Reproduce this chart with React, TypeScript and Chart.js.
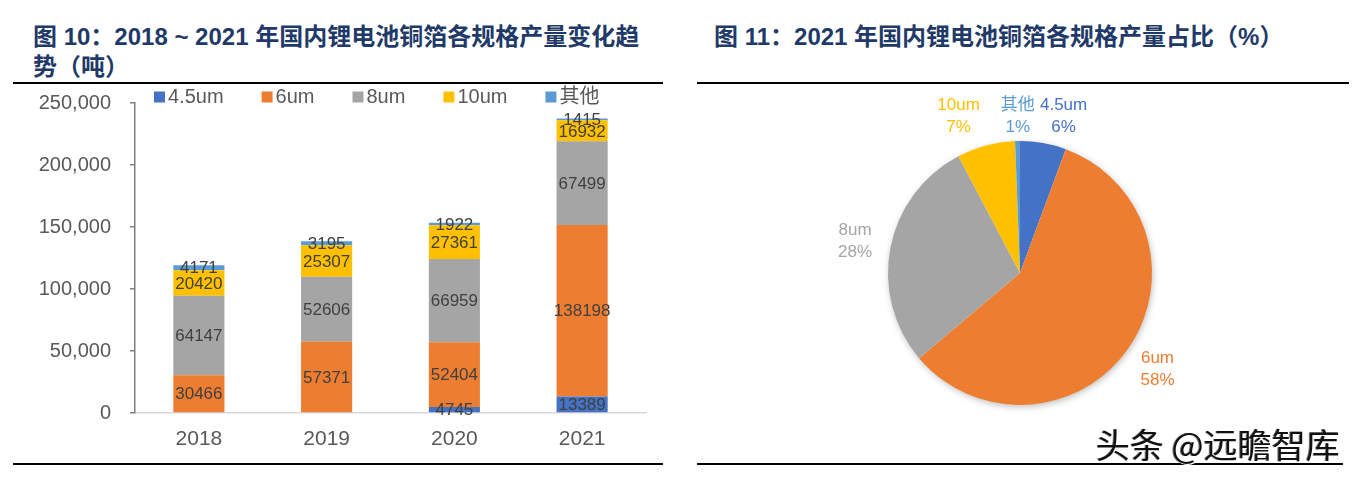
import React, { useEffect, useRef } from 'react';
import { Chart, registerables } from 'chart.js';

Chart.register(...registerables);

// ---------- data ----------
const years = ['2018', '2019', '2020', '2021'];
const seriesNames = ['4.5um', '6um', '8um', '10um', '其他'];
const s45 = [0, 0, 4745, 13389];
const s6 = [30466, 57371, 52404, 138198];
const s8 = [64147, 52606, 66959, 67499];
const s10 = [20420, 25307, 27361, 16932];
const sOther = [4171, 3195, 1922, 1415];
const yMax = 250000;
const yStep = 50000;

const pieLabels = ['4.5um', '6um', '8um', '10um', '其他'];
const pieValues = [13389, 138198, 67499, 16932, 1415];

// ---------- styles ----------
const colors = ['#4472C4', '#ED7D31', '#A5A5A5', '#FFC000', '#5B9BD5'];
const pieLabelColors = ['#4472C4', '#ED7D31', '#A5A5A5', '#FFC000', '#5B9BD5'];
const pieLabelNudgeX = [14, 0, 0, -18, 1];
const FONT = '"Liberation Sans", Arial, "Noto Sans CJK SC", sans-serif';
const TITLE_COLOR = '#1F3A68';

const barLabelPlugin = {
  id: 'barLabels',
  afterDatasetsDraw(chart: any) {
    const ctx = chart.ctx;
    ctx.save();
    ctx.font = `17px ${FONT}`;
    ctx.fillStyle = '#404040';
    ctx.textAlign = 'center';
    ctx.textBaseline = 'middle';
    chart.data.datasets.forEach((ds: any, i: number) => {
      const meta = chart.getDatasetMeta(i);
      meta.data.forEach((el: any, j: number) => {
        const v = ds.data[j];
        if (!v) return;
        const p = el.getProps(['x', 'y', 'base'], true);
        ctx.fillText(String(v), p.x, (p.y + p.base) / 2 + 1);
      });
    });
    ctx.restore();
  },
};

const barLegendPlugin = {
  id: 'barLegend',
  afterDraw(chart: any) {
    const ctx = chart.ctx;
    ctx.save();
    ctx.font = `20px ${FONT}`;
    ctx.textBaseline = 'middle';
    ctx.textAlign = 'left';
    let x = 141;
    const y = 12;
    chart.data.datasets.forEach((ds: any) => {
      ctx.fillStyle = ds.backgroundColor;
      ctx.fillRect(x, y - 5.5, 11, 11);
      x += 14;
      ctx.fillStyle = '#595959';
      ctx.fillText(ds.label, x, y);
      x += ctx.measureText(ds.label).width + 38;
    });
    ctx.restore();
  },
};

const pieShadowPlugin = {
  id: 'pieShadow',
  beforeDatasetsDraw(chart: any) {
    const el = chart.getDatasetMeta(0).data[0];
    if (!el) return;
    const ctx = chart.ctx;
    ctx.save();
    ctx.shadowColor = 'rgba(0,0,0,0.28)';
    ctx.shadowBlur = 7;
    ctx.shadowOffsetX = 1;
    ctx.shadowOffsetY = 2;
    ctx.fillStyle = '#ffffff';
    ctx.beginPath();
    ctx.arc(el.x, el.y, el.outerRadius - 0.5, 0, Math.PI * 2);
    ctx.fill();
    ctx.restore();
  },
};

const pieLabelPlugin = {
  id: 'pieLabels',
  afterDatasetsDraw(chart: any) {
    const ctx = chart.ctx;
    const meta = chart.getDatasetMeta(0);
    const data = chart.data.datasets[0].data as number[];
    const total = data.reduce((a, b) => a + b, 0);
    ctx.save();
    ctx.font = `17px ${FONT}`;
    ctx.textAlign = 'center';
    ctx.textBaseline = 'middle';
    meta.data.forEach((el: any, i: number) => {
      const a = (el.startAngle + el.endAngle) / 2;
      const d = el.outerRadius + 36;
      const lx = el.x + Math.cos(a) * d + pieLabelNudgeX[i];
      let ly = el.y + Math.sin(a) * d;
      const topLimit = el.y - el.outerRadius - 25;
      if (ly < topLimit) ly = topLimit;
      const pct = Math.round((data[i] / total) * 100) + '%';
      ctx.fillStyle = pieLabelColors[i];
      ctx.fillText(chart.data.labels[i], lx, ly - 11);
      ctx.fillText(pct, lx, ly + 11);
    });
    ctx.restore();
  },
};

function BarChart() {
  const ref = useRef<HTMLCanvasElement>(null);
  useEffect(() => {
    const series = [s45, s6, s8, s10, sOther];
    const chart = new Chart(ref.current as HTMLCanvasElement, {
      type: 'bar',
      data: {
        labels: years,
        datasets: series.map((d, i) => ({
          label: seriesNames[i],
          data: d,
          backgroundColor: colors[i],
          borderWidth: 0,
          barPercentage: 0.4,
          categoryPercentage: 1.0,
        })),
      },
      options: {
        animation: false,
        responsive: false,
        maintainAspectRatio: false,
        layout: { padding: { top: 18, right: 16, left: 0, bottom: 0 } },
        plugins: { legend: { display: false }, tooltip: { enabled: false } },
        scales: {
          x: {
            stacked: true,
            grid: { display: false },
            border: { display: true, color: '#D9D9D9', width: 1.5 },
            ticks: { color: '#595959', font: { size: 21, family: FONT }, padding: 6 },
            afterFit: (s: any) => { s.height = 49; },
          },
          y: {
            stacked: true,
            min: 0,
            max: yMax,
            ticks: {
              stepSize: yStep,
              color: '#595959',
              font: { size: 20, family: FONT },
              padding: 19,
              callback: (v: any) => Number(v).toLocaleString('en-US'),
            },
            grid: { drawOnChartArea: false, drawTicks: true, tickLength: 5, color: '#7f7f7f', lineWidth: 1.5 },
            border: { color: '#7f7f7f', width: 1.5 },
            afterFit: (s: any) => { s.width = 122; s.paddingTop = 0; s.paddingBottom = 0; },
          },
        },
      } as any,
      plugins: [barLabelPlugin, barLegendPlugin],
    });
    return () => chart.destroy();
  }, []);
  return (
    <canvas
      ref={ref}
      width={649}
      height={377}
      style={{ position: 'absolute', left: 13, top: 85, width: 649, height: 377 }}
    />
  );
}

function PieChart() {
  const ref = useRef<HTMLCanvasElement>(null);
  useEffect(() => {
    const chart = new Chart(ref.current as HTMLCanvasElement, {
      type: 'pie',
      data: {
        labels: pieLabels,
        datasets: [{ data: pieValues, backgroundColor: colors, borderWidth: 0 }],
      },
      options: {
        animation: false,
        responsive: false,
        maintainAspectRatio: false,
        radius: 132,
        layout: { padding: { left: 188, right: 188, top: 55, bottom: 55 } },
        plugins: { legend: { display: false }, tooltip: { enabled: false } },
      } as any,
      plugins: [pieShadowPlugin, pieLabelPlugin],
    });
    return () => chart.destroy();
  }, []);
  return (
    <canvas
      ref={ref}
      width={640}
      height={374}
      style={{ position: 'absolute', left: 700, top: 86, width: 640, height: 374 }}
    />
  );
}

const titleStyle: React.CSSProperties = {
  position: 'absolute',
  fontFamily: '"Liberation Sans", Arial, "Noto Sans CJK SC", sans-serif',
  fontWeight: 'bold',
  fontSize: 24,
  lineHeight: '30px',
  color: TITLE_COLOR,
  whiteSpace: 'nowrap',
};

const line = (left: number, top: number, width: number): React.CSSProperties => ({
  position: 'absolute',
  left,
  top,
  width,
  height: 2,
  background: '#000',
});

export default function App() {
  return (
    <div style={{ position: 'absolute', left: 0, top: 0, width: 1361, height: 480, background: '#fff', overflow: 'hidden' }}>
      <div style={{ ...titleStyle, left: 33, top: 22 }}>
        图 10：2018 ~ 2021 年国内锂电池铜箔各规格产量变化趋
        <br />
        势（吨）
      </div>
      <div style={{ ...titleStyle, left: 714, top: 22 }}>图 11：2021 年国内锂电池铜箔各规格产量占比（%）</div>
      <div style={line(13, 82, 650)} />
      <div style={line(697, 82, 652)} />
      <BarChart />
      <PieChart />
      <div style={line(13, 463, 650)} />
      <div style={line(697, 463, 646)} />
      <div
        style={{
          position: 'absolute',
          left: 1096,
          top: 425,
          fontFamily: '"Noto Sans CJK SC", sans-serif',
          fontSize: 34,
          lineHeight: '38px',
          color: '#111',
          whiteSpace: 'nowrap',
          textShadow: '1px 1px 0 #fff, -1px 0 0 #777',
        }}
      >
        头条 @远瞻智库
      </div>
    </div>
  );
}
